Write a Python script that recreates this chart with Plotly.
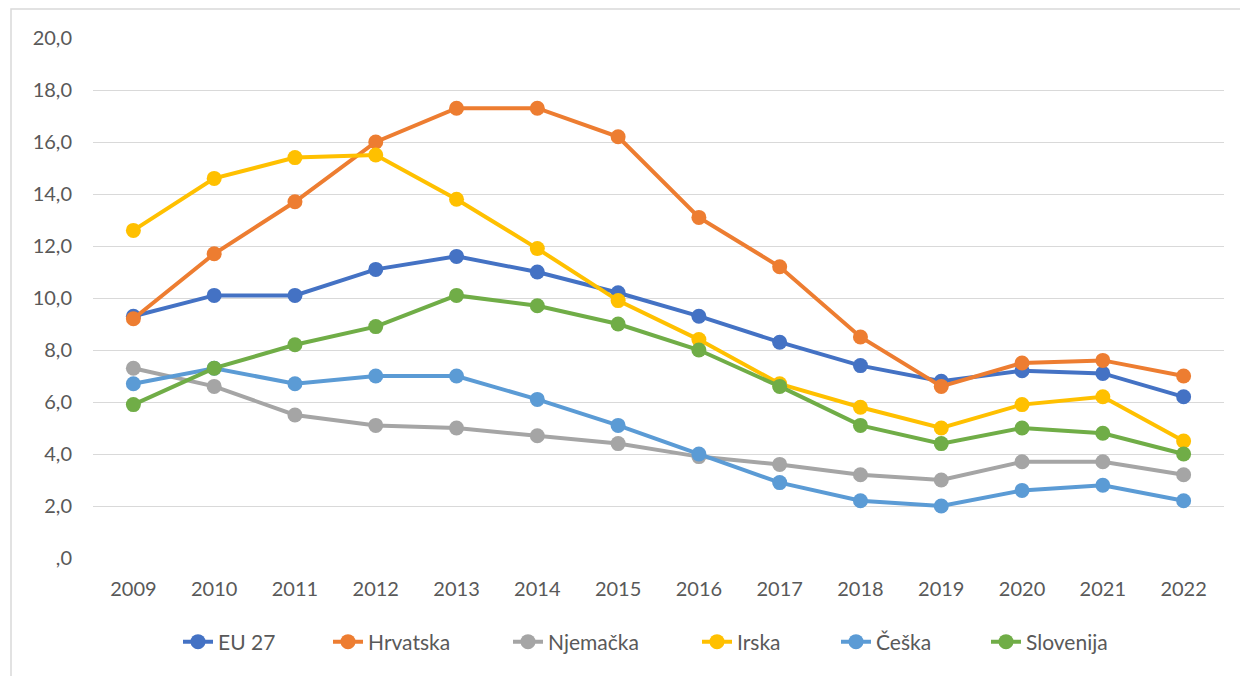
import plotly.graph_objects as go

years = ["2009", "2010", "2011", "2012", "2013", "2014", "2015", "2016", "2017", "2018", "2019", "2020", "2021", "2022"]
eu27 = [9.3, 10.1, 10.1, 11.1, 11.6, 11.0, 10.2, 9.3, 8.3, 7.4, 6.8, 7.2, 7.1, 6.2]
hrvatska = [9.2, 11.7, 13.7, 16.0, 17.3, 17.3, 16.2, 13.1, 11.2, 8.5, 6.6, 7.5, 7.6, 7.0]
njemacka = [7.3, 6.6, 5.5, 5.1, 5.0, 4.7, 4.4, 3.9, 3.6, 3.2, 3.0, 3.7, 3.7, 3.2]
irska = [12.6, 14.6, 15.4, 15.5, 13.8, 11.9, 9.9, 8.4, 6.7, 5.8, 5.0, 5.9, 6.2, 4.5]
ceska = [6.7, 7.3, 6.7, 7.0, 7.0, 6.1, 5.1, 4.0, 2.9, 2.2, 2.0, 2.6, 2.8, 2.2]
slovenija = [5.9, 7.3, 8.2, 8.9, 10.1, 9.7, 9.0, 8.0, 6.6, 5.1, 4.4, 5.0, 4.8, 4.0]

series_names = ["EU 27", "Hrvatska", "Njemačka", "Irska", "Češka", "Slovenija"]
series_values = [eu27, hrvatska, njemacka, irska, ceska, slovenija]
colors = ["#4472C4", "#ED7D31", "#A5A5A5", "#FFC000", "#5B9BD5", "#70AD47"]

y_tickvals = [0, 2, 4, 6, 8, 10, 12, 14, 16, 18, 20]
y_ticktext = [",0", "2,0", "4,0", "6,0", "8,0", "10,0", "12,0", "14,0", "16,0", "18,0", "20,0"]

# plot area geometry (screen pixels) used for legend placement
PLOT_L, PLOT_W = 93, 1131
legend_text_px = [218, 368, 548, 737, 876, 1026]

fig = go.Figure()
legend_ids = ["legend", "legend2", "legend3", "legend4", "legend5", "legend6"]
for name, vals, col, lid in zip(series_names, series_values, colors, legend_ids):
    fig.add_trace(go.Scatter(
        x=years, y=vals, name=name, mode="lines+markers",
        line=dict(color=col, width=4),
        marker=dict(color=col, size=15),
        legend=lid,
    ))

legend_layout = {}
for lid, tx in zip(legend_ids, legend_text_px):
    legend_layout[lid] = dict(
        orientation="h", x=(tx - 40 - PLOT_L) / PLOT_W, xanchor="left",
        y=-0.1615, yanchor="middle", bgcolor="rgba(0,0,0,0)",
        font=dict(size=21, color="#595959"),
    )

fig.update_layout(
    width=1248, height=676,
    paper_bgcolor="white", plot_bgcolor="white",
    margin=dict(l=85, r=32, t=30, b=126, autoexpand=False),
    font=dict(family="Lato, Open Sans, sans-serif", size=20, color="#595959"),
    showlegend=True,
    xaxis=dict(type="category", range=[-0.5, 13.5], showgrid=False, zeroline=False, showline=False,
               ticks="", ticklabelstandoff=17, automargin=False,
               tickfont=dict(size=20, color="#595959")),
    yaxis=dict(range=[0, 20], tickvals=y_tickvals, ticktext=y_ticktext,
               showgrid=True, gridcolor="#D9D9D9", gridwidth=1.3, zeroline=False,
               showline=False, ticks="", ticklabelstandoff=20, automargin=False,
               tickfont=dict(size=20, color="#595959")),
    shapes=[dict(type="rect", xref="paper", yref="paper", x0=-0.0725, x1=1.035, y0=-0.26, y1=1.0558,
                 line=dict(color="#D9D9D9", width=1.5))],
    **legend_layout,
)

fig.write_html("out.html")
